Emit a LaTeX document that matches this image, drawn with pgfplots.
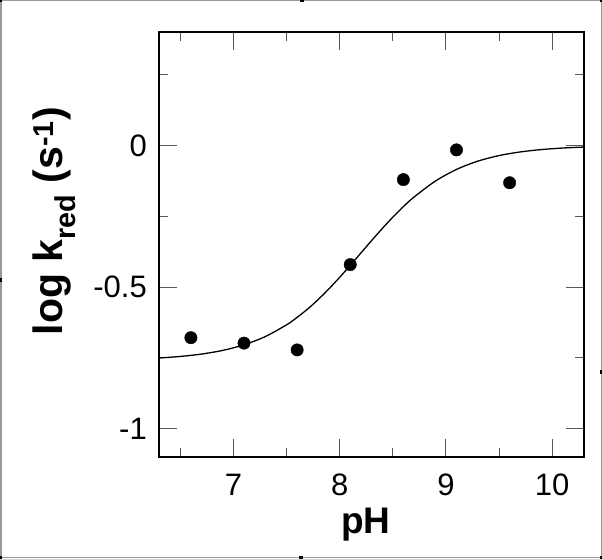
\documentclass[border=0pt]{standalone}
\usepackage{fontspec}
\setmainfont{Liberation Sans}
\usepackage{pgfplots}
\pgfplotsset{compat=1.18}
\begin{document}
\begin{tikzpicture}[x=1pt,y=1pt]
\useasboundingbox (0,0) rectangle (602,558);
\draw[gray!80, line width=1.5pt] (0.75,0.75) rectangle (601.25,557.25);
\foreach \p in {(0,0),(602,0),(0,558),(602,558),(302,558),(301,0),(0,278),(602,186)}
  \fill[black] \p ++(-2,-2) rectangle ++(4,4);
\begin{axis}[
  at={(159pt,101pt)}, anchor=south west,
  scale only axis, width=425pt, height=425pt,
  xmin=6.3, xmax=10.3, ymin=-1.1, ymax=0.4,
  xtick={7,8,9,10}, xticklabels={7,8,9,10},
  ytick={-1,-0.5,0}, yticklabels={{-1},{-0.5},{0}},
  minor xtick={6.5,7.5,8.5,9.5},
  minor ytick={-0.75,-0.25,0.25},
  tick align=inside,
  major tick length=18pt, minor tick length=9pt,
  every tick/.style={gray!70!black, line width=1pt},
  axis line style={black, line width=2.5pt},
  /pgf/number format/assume math mode=true,
  ticklabel style={font=\fontsize{31}{31}\selectfont, inner sep=0pt},
  xticklabel style={anchor=north, yshift=-17pt},
  yticklabel style={anchor=east, xshift=-12pt},
  xlabel={\bfseries pH},
  xlabel style={font=\fontsize{37}{37}\selectfont, at={(axis description cs:0.487,-0.179)}, anchor=base, inner sep=0pt},
  ylabel={\bfseries log k\textsubscript{red} (s\textsuperscript{-1})},
  ylabel style={font=\fontsize{41}{41}\selectfont, at={(axis description cs:-0.2259,0.555)}, anchor=base, inner sep=0pt},
  clip=true,
]
\addplot[black, line width=1.3pt, smooth] coordinates {
(6.3,-0.7506) (6.5,-0.7451) (6.7,-0.7367) (6.9,-0.7237) (7.1,-0.7041)
(7.3,-0.6750) (7.5,-0.6336) (7.6,-0.6070) (7.7,-0.5774) (7.8,-0.5436) (7.9,-0.5062)
(8.0,-0.4660) (8.1,-0.4236) (8.2,-0.3800) (8.3,-0.3365) (8.4,-0.2940)
(8.5,-0.2538) (8.6,-0.2164) (8.7,-0.1826) (8.9,-0.1264) (9.1,-0.0850)
(9.3,-0.0559) (9.5,-0.0362) (9.7,-0.0233) (9.9,-0.0149) (10.1,-0.0095) (10.3,-0.0060)
};
\addplot[only marks, mark=*, mark size=6.2pt, black] coordinates {
(6.6,-0.679) (7.1,-0.698) (7.6,-0.722) (8.1,-0.421) (8.6,-0.121) (9.1,-0.016) (9.6,-0.132)
};
\end{axis}
\end{tikzpicture}
\end{document}
